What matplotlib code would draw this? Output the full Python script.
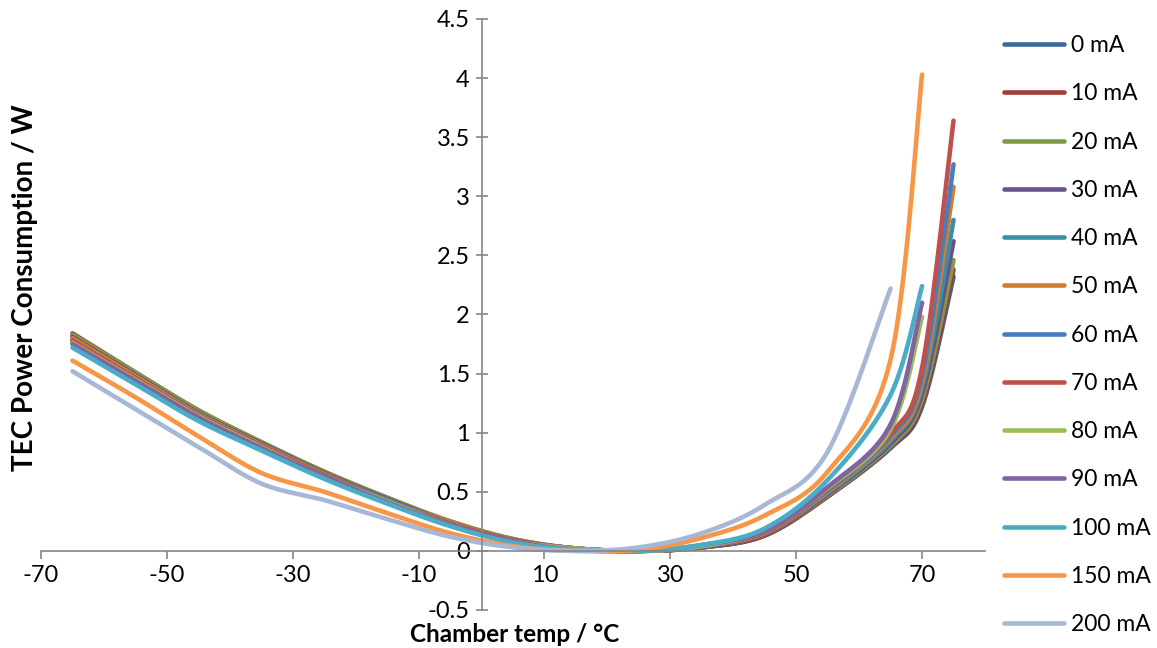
import numpy as np
import matplotlib
matplotlib.use("Agg")
import matplotlib.pyplot as plt
from matplotlib.ticker import FixedLocator, FuncFormatter

plt.rcParams["font.family"] = ["Lato", "DejaVu Sans"]
plt.rcParams["axes.unicode_minus"] = False

# Chamber temperature set points (deg C)
temps = [-65, -55, -45, -35, -25, -15, -5, 5, 15, 25, 35, 45, 55, 65, 70, 75]

# TEC power consumption (W) for each drive current; None = not measured
p_0mA = [1.82, 1.49, 1.17, 0.91, 0.66, 0.44, 0.24, 0.09, 0.02, 0.00, 0.03, 0.13, 0.46, 0.87, 1.22, 2.32]
p_10mA = [1.84, 1.51, 1.19, 0.92, 0.67, 0.45, 0.25, 0.10, 0.02, 0.00, 0.03, 0.13, 0.46, 0.88, 1.24, 2.38]
p_20mA = [1.83, 1.51, 1.19, 0.92, 0.67, 0.45, 0.25, 0.10, 0.02, 0.00, 0.03, 0.14, 0.47, 0.89, 1.28, 2.46]
p_30mA = [1.81, 1.49, 1.17, 0.91, 0.66, 0.44, 0.24, 0.09, 0.02, 0.00, 0.03, 0.14, 0.48, 0.91, 1.33, 2.62]
p_40mA = [1.79, 1.47, 1.16, 0.90, 0.65, 0.43, 0.23, 0.09, 0.02, 0.00, 0.04, 0.15, 0.49, 0.93, 1.38, 2.80]
p_50mA = [1.80, 1.48, 1.16, 0.90, 0.65, 0.43, 0.24, 0.09, 0.02, 0.00, 0.04, 0.15, 0.50, 0.95, 1.42, 3.08]
p_60mA = [1.77, 1.46, 1.15, 0.89, 0.64, 0.43, 0.23, 0.09, 0.02, 0.00, 0.04, 0.16, 0.51, 0.97, 1.48, 3.27]
p_70mA = [1.78, 1.46, 1.15, 0.89, 0.64, 0.42, 0.23, 0.09, 0.02, 0.00, 0.04, 0.16, 0.52, 0.99, 1.55, 3.64]
p_80mA = [1.76, 1.45, 1.14, 0.88, 0.63, 0.42, 0.22, 0.08, 0.02, 0.00, 0.04, 0.17, 0.53, 1.03, 1.98, None]
p_90mA = [1.75, 1.44, 1.13, 0.87, 0.63, 0.41, 0.22, 0.08, 0.01, 0.00, 0.05, 0.17, 0.54, 1.07, 2.10, None]
p_100mA = [1.72, 1.41, 1.10, 0.85, 0.61, 0.40, 0.21, 0.07, 0.01, 0.00, 0.05, 0.19, 0.60, 1.32, 2.24, None]
p_150mA = [1.61, 1.30, 0.97, 0.66, 0.50, 0.32, 0.15, 0.04, 0.00, 0.01, 0.11, 0.30, 0.67, 1.62, 4.03, None]
p_200mA = [1.52, 1.20, 0.88, 0.57, 0.43, 0.27, 0.12, 0.03, 0.00, 0.03, 0.15, 0.39, 0.84, 2.22, None, None]

series_labels = ["0 mA", "10 mA", "20 mA", "30 mA", "40 mA", "50 mA", "60 mA",
                 "70 mA", "80 mA", "90 mA", "100 mA", "150 mA", "200 mA"]
series_values = [p_0mA, p_10mA, p_20mA, p_30mA, p_40mA, p_50mA, p_60mA,
                 p_70mA, p_80mA, p_90mA, p_100mA, p_150mA, p_200mA]
series_colors = ["#3C6797", "#A03C39", "#7F9B47", "#68528A", "#3A8EA5", "#D07C33",
                 "#4A7EBB", "#C0504D", "#9BBB59", "#8064A2", "#4BACC6", "#F79646",
                 "#A7B8D6"]


def smooth_curve(xs, ys, n=40):
    """Cubic Bezier smoothing through the points (tension 1/6 control points)."""
    pts = np.array([(x, y) for x, y in zip(xs, ys) if y is not None], dtype=float)
    out = [pts[:1]]
    m = len(pts)
    t = np.linspace(0, 1, n)[1:, None]
    for i in range(m - 1):
        p0 = pts[i - 1] if i > 0 else pts[i]
        p1, p2 = pts[i], pts[i + 1]
        p3 = pts[i + 2] if i + 2 < m else pts[i + 1]
        c1 = p1 + (p2 - p0) / 6.0
        c2 = p2 - (p3 - p1) / 6.0
        seg = ((1 - t) ** 3) * p1 + 3 * ((1 - t) ** 2) * t * c1 + 3 * (1 - t) * t ** 2 * c2 + t ** 3 * p2
        out.append(seg)
    arr = np.vstack(out)
    return arr[:, 0], arr[:, 1]


fig = plt.figure(figsize=(11.57, 6.48), dpi=100)
ax = fig.add_axes([41 / 1157, 1 - 610 / 648, (985 - 41) / 1157, (610 - 19) / 648])

for label, vals, col in zip(series_labels, series_values, series_colors):
    sx, sy = smooth_curve(temps, vals)
    ax.plot(sx, sy, color=col, lw=3.3, solid_capstyle="round", solid_joinstyle="round", label=label)

ax.set_xlim(-70, 80)
ax.set_ylim(-0.5, 4.5)

axis_grey = "#868686"
for side in ("top", "right"):
    ax.spines[side].set_visible(False)
ax.spines["left"].set_position(("data", 0))
ax.spines["bottom"].set_position(("data", 0))
for side in ("left", "bottom"):
    ax.spines[side].set_color(axis_grey)
    ax.spines[side].set_linewidth(1.2)

ax.xaxis.set_major_locator(FixedLocator(np.arange(-70, 71, 20)))
ax.yaxis.set_major_locator(FixedLocator(np.arange(-0.5, 4.51, 0.5)))
ax.yaxis.set_major_formatter(FuncFormatter(lambda v, p: f"{v:g}"))
ax.xaxis.set_major_formatter(FuncFormatter(lambda v, p: f"{v:g}"))
ax.tick_params(axis="x", direction="out", length=6, width=1.2, color=axis_grey,
               labelsize=17, pad=4)
ax.tick_params(axis="y", direction="inout", length=9, width=1.2, color=axis_grey,
               labelsize=17, pad=4)

fig.text(25 / 1157, 1 - 288 / 648, "TEC Power Consumption / W", rotation=90,
         ha="center", va="center", fontsize=20, fontweight="bold")
fig.text(515 / 1157, 1 - 634 / 648, "Chamber temp / °C",
         ha="center", va="center", fontsize=17.5, fontweight="bold")

leg = ax.legend(loc="upper left", bbox_to_anchor=(1004 / 1157, 1 - 35 / 648),
                bbox_transform=fig.transFigure, frameon=False, fontsize=16.5,
                handlelength=2.62, handletextpad=0.3, labelspacing=1.19,
                borderpad=0, borderaxespad=0)
for h in leg.get_lines():
    h.set_linewidth(3.3)
    h.set_solid_capstyle("round")

fig.savefig("out.png", dpi=100)
